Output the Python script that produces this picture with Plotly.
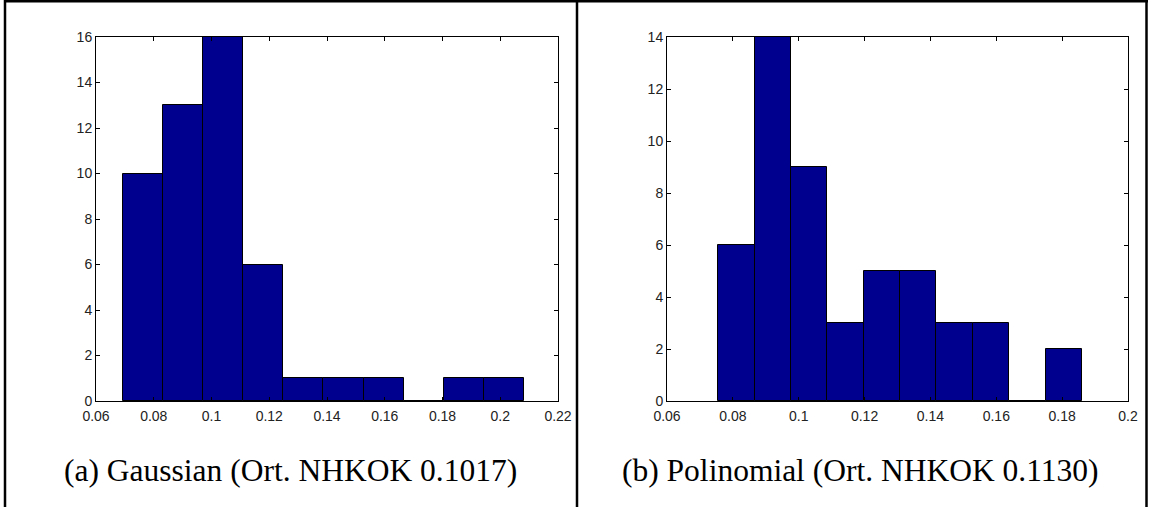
import plotly.graph_objects as go

# Histogram counts (10 bins each) and bin ranges
gauss_counts = [10, 13, 16, 6, 1, 1, 1, 0, 1, 1]
gauss_min, gauss_max = 0.0693, 0.2082
poly_counts = [6, 14, 9, 3, 5, 5, 3, 3, 0, 2]
poly_min, poly_max = 0.0756, 0.1860

left_xticks = [0.06, 0.08, 0.10, 0.12, 0.14, 0.16, 0.18, 0.20, 0.22]
left_xlabels = ["0.06", "0.08", "0.1", "0.12", "0.14", "0.16", "0.18", "0.2", "0.22"]
right_xticks = [0.06, 0.08, 0.10, 0.12, 0.14, 0.16, 0.18, 0.20]
right_xlabels = ["0.06", "0.08", "0.1", "0.12", "0.14", "0.16", "0.18", "0.2"]
left_yticks = [0, 2, 4, 6, 8, 10, 12, 14, 16]
right_yticks = [0, 2, 4, 6, 8, 10, 12, 14]

captions = ["(a) Gaussian (Ort. NHKOK 0.1017)", "(b) Polinomial (Ort. NHKOK 0.1130)"]

W, H = 1153, 507
BAR_COLOR = "rgb(0,0,143)"


def px(x):
    return x / W


def py(y):
    return (H - y) / H


def bins(lo, hi, counts):
    n = len(counts)
    w = (hi - lo) / n
    centers = [lo + w * (i + 0.5) for i in range(n)]
    return centers, w


fig = go.Figure()

gc, gw = bins(gauss_min, gauss_max, gauss_counts)
pc, pw = bins(poly_min, poly_max, poly_counts)

fig.add_trace(go.Bar(x=gc, y=gauss_counts, width=gw, xaxis="x", yaxis="y",
                     marker=dict(color=BAR_COLOR, line=dict(color="black", width=1))))
fig.add_trace(go.Bar(x=pc, y=poly_counts, width=pw, xaxis="x2", yaxis="y2",
                     marker=dict(color=BAR_COLOR, line=dict(color="black", width=1))))

tick_font = dict(family="Liberation Sans, Arial, sans-serif", size=14, color="#222")
axis_common = dict(showline=True, linecolor="black", linewidth=1, mirror="ticks",
                   ticks="inside", ticklen=4, tickcolor="black", tickwidth=1,
                   showgrid=False, zeroline=False, tickfont=tick_font, fixedrange=True,
                   automargin=False)

fig.update_layout(
    width=W, height=H,
    margin=dict(l=0, r=0, t=0, b=0),
    paper_bgcolor="white", plot_bgcolor="white",
    showlegend=False, bargap=0,
    xaxis=dict(domain=[px(96), px(558)], range=[0.06, 0.22], tickvals=left_xticks,
               ticktext=left_xlabels, anchor="y", ticklabelstandoff=2, **axis_common),
    yaxis=dict(domain=[py(401), py(37)], range=[0, 16], tickvals=left_yticks,
               anchor="x", **axis_common),
    xaxis2=dict(domain=[px(667), px(1128)], range=[0.06, 0.20], tickvals=right_xticks,
                ticktext=right_xlabels, anchor="y2", ticklabelstandoff=2, **axis_common),
    yaxis2=dict(domain=[py(401), py(37)], range=[0, 14], tickvals=right_yticks,
                anchor="x2", **axis_common),
)

# Table-style frame around the two panels
frame = dict(type="line", xref="paper", yref="paper", line=dict(color="black", width=2.5))
fig.add_shape(x0=px(5), x1=px(5), y0=0, y1=1, **frame)
fig.add_shape(x0=px(577), x1=px(577), y0=0, y1=1, **frame)
fig.add_shape(x0=px(1146.5), x1=px(1146.5), y0=0, y1=1, **frame)
fig.add_shape(x0=px(4), x1=px(1148), y0=py(1.2), y1=py(1.2), **frame)

cap_font = dict(family="Liberation Serif, Times New Roman, serif", size=31.5, color="black")
for cx, text in zip([290, 860], captions):
    fig.add_annotation(x=px(cx), y=py(470), xref="paper", yref="paper", text=text,
                       showarrow=False, xanchor="center", yanchor="middle", font=cap_font)

fig.write_html("out.html")
